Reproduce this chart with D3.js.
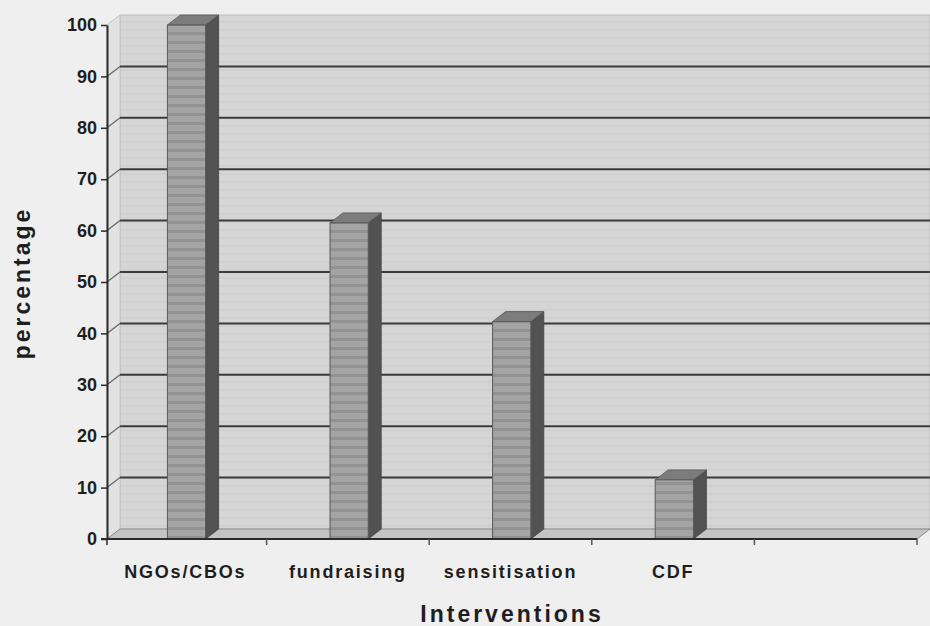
<!DOCTYPE html>
<html>
<head>
<meta charset="utf-8">
<script src="https://cdn.jsdelivr.net/npm/d3@7"></script>
<style>
  html, body { margin: 0; padding: 0; background: #efefef; }
  svg { display: block; }
</style>
</head>
<body>
<svg id="chart" width="930" height="626"></svg>
<script>
// Interventions and the share of respondents naming each one (%)
const categories = ["NGOs/CBOs", "fundraising", "sensitisation", "CDF", ""];
const percentages = [100, 61.5, 42.3, 11.5, null];
const yTickValues = [0, 10, 20, 30, 40, 50, 60, 70, 80, 90, 100];
const yAxisTitle = "percentage";
const xAxisTitle = "Interventions";

const W = 930, H = 626;
const svg = d3.select("#chart");

// 3-D depth offset of the back wall relative to the front plane
const DX = 13, DY = -10;
const axisX = 107;

const x = d3.scaleBand().domain(categories).range([104, 917]).padding(0);
const y = d3.scaleLinear().domain([0, 100]).range([539, 25]);

const defs = svg.append("defs");
const wall = defs.append("pattern").attr("id", "wallStripes")
  .attr("patternUnits", "userSpaceOnUse").attr("width", 12).attr("height", 8);
wall.append("rect").attr("width", 12).attr("height", 8).attr("fill", "#d5d5d5");
wall.append("rect").attr("y", 5).attr("width", 12).attr("height", 2).attr("fill", "#d0d0d0");

const barFill = defs.append("pattern").attr("id", "barStripes")
  .attr("patternUnits", "userSpaceOnUse").attr("width", 12).attr("height", 9);
barFill.append("rect").attr("width", 12).attr("height", 9).attr("fill", "#a4a4a4");
barFill.append("rect").attr("y", 5).attr("width", 12).attr("height", 3).attr("fill", "#929292");

svg.append("rect").attr("width", W).attr("height", H).attr("fill", "#efefef");

const y0 = y(0), yTop = y(100);
const right = x.range()[1];

// back wall
svg.append("rect")
  .attr("x", axisX + DX).attr("y", yTop + DY)
  .attr("width", W - (axisX + DX)).attr("height", y0 - yTop)
  .attr("fill", "url(#wallStripes)")
  .attr("stroke", "#bdbdbd").attr("stroke-width", 1);

// left side wall
svg.append("path")
  .attr("d", `M${axisX},${y0} L${axisX},${yTop} L${axisX + DX},${yTop + DY} L${axisX + DX},${y0 + DY} Z`)
  .attr("fill", "#e2e2e2").attr("stroke", "#c4c4c4").attr("stroke-width", 1);

// floor
svg.append("path")
  .attr("d", `M${axisX},${y0} L${axisX + DX},${y0 + DY} L${right + DX},${y0 + DY} L${right},${y0} Z`)
  .attr("fill", "#c4c4c4").attr("stroke", "#8a8a8a").attr("stroke-width", 1);

// gridlines: back wall + diagonal on side wall
const gridVals = yTickValues.filter(v => v > 0 && v < 100);
const grid = svg.append("g").attr("stroke", "#3a3a3a");
grid.selectAll("line.back").data(gridVals).join("line").attr("class", "back")
  .attr("x1", axisX + DX).attr("x2", W)
  .attr("y1", d => y(d) + DY).attr("y2", d => y(d) + DY)
  .attr("stroke-width", 2);
grid.selectAll("line.side").data(gridVals).join("line").attr("class", "side")
  .attr("x1", axisX).attr("x2", axisX + DX)
  .attr("y1", d => y(d)).attr("y2", d => y(d) + DY)
  .attr("stroke-width", 1.2).attr("stroke", "#666");

// bars
const data = categories.map((c, i) => ({ c, v: percentages[i] })).filter(d => d.v != null);
const bx0 = d => x(d.c) + x.bandwidth() * 0.39;
const bw = x.bandwidth() * 0.235;
const bars = svg.append("g").selectAll("g").data(data).join("g");

bars.append("path") // side face
  .attr("d", d => {
    const x1 = bx0(d) + bw, yt = y(d.v);
    return `M${x1},${yt} L${x1 + DX},${yt + DY} L${x1 + DX},${y0 + DY} L${x1},${y0} Z`;
  })
  .attr("fill", "#525252").attr("stroke", "#444").attr("stroke-width", 0.8);

bars.append("path") // top face
  .attr("d", d => {
    const x0 = bx0(d), x1 = x0 + bw, yt = y(d.v);
    return `M${x0},${yt} L${x0 + DX},${yt + DY} L${x1 + DX},${yt + DY} L${x1},${yt} Z`;
  })
  .attr("fill", "#7c7c7c").attr("stroke", "#555").attr("stroke-width", 0.8);

bars.append("rect") // front face
  .attr("x", bx0).attr("y", d => y(d.v))
  .attr("width", bw).attr("height", d => y0 - y(d.v))
  .attr("fill", "url(#barStripes)")
  .attr("stroke", "#5a5a5a").attr("stroke-width", 1);

// y axis
const yAxis = svg.append("g")
  .attr("transform", `translate(${axisX},0)`)
  .call(d3.axisLeft(y).tickValues(yTickValues).tickSize(6).tickSizeOuter(0).tickPadding(4));
yAxis.select(".domain").attr("stroke", "#2a2a2a").attr("stroke-width", 2);
yAxis.selectAll(".tick line").attr("stroke", "#2a2a2a").attr("stroke-width", 1.5);
yAxis.selectAll(".tick text")
  .attr("fill", "#1e1e1e")
  .style("font", "bold 18px 'Liberation Sans', Arial, sans-serif");

// x axis: front edge, category labels, boundary ticks
svg.append("line")
  .attr("x1", axisX - 6).attr("x2", right)
  .attr("y1", y0).attr("y2", y0)
  .attr("stroke", "#2a2a2a").attr("stroke-width", 2);
svg.append("line")
  .attr("x1", axisX).attr("x2", axisX)
  .attr("y1", y0).attr("y2", y0 + 6)
  .attr("stroke", "#2a2a2a").attr("stroke-width", 1.5);

const xAxis = svg.append("g")
  .attr("transform", `translate(0,${y0})`)
  .call(d3.axisBottom(x).tickSize(0).tickPadding(26));
xAxis.select(".domain").remove();
xAxis.selectAll(".tick text")
  .attr("fill", "#1e1e1e")
  .style("font", "bold 18px 'Liberation Sans', Arial, sans-serif")
  .style("letter-spacing", "1.8px");

svg.append("g").selectAll("line").data(categories).join("line")
  .attr("x1", d => x(d) + x.step()).attr("x2", d => x(d) + x.step())
  .attr("y1", y0).attr("y2", y0 + 6)
  .attr("stroke", "#555").attr("stroke-width", 1.5);

// axis titles
svg.append("text")
  .attr("x", 512).attr("y", 622)
  .attr("text-anchor", "middle")
  .attr("fill", "#1e1e1e")
  .style("font", "bold 23px 'Liberation Sans', Arial, sans-serif")
  .style("letter-spacing", "3px")
  .text(xAxisTitle);

svg.append("text")
  .attr("transform", "translate(30,283) rotate(-90)")
  .attr("text-anchor", "middle")
  .attr("fill", "#1e1e1e")
  .style("font", "bold 23px 'Liberation Sans', Arial, sans-serif")
  .style("letter-spacing", "3px")
  .text(yAxisTitle);
</script>
</body>
</html>
